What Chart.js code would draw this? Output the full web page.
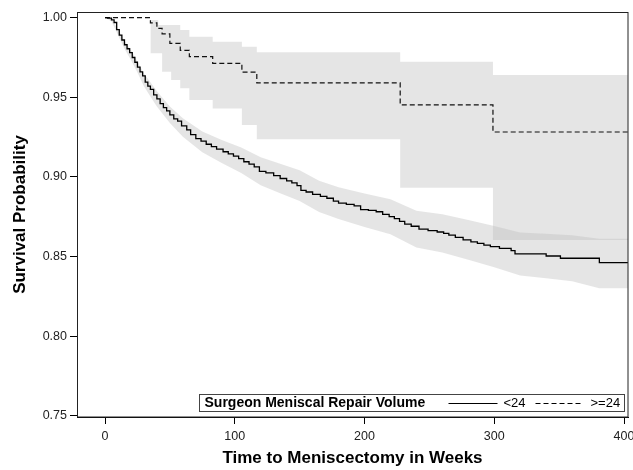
<!DOCTYPE html>
<html>
<head>
<meta charset="utf-8">
<script src="https://cdn.jsdelivr.net/npm/chart.js@4.4.1/dist/chart.umd.min.js"></script>
<style>
  html, body { margin: 0; padding: 0; background: #fff; }
  #wrap { width: 633px; height: 470px; }
</style>
</head>
<body>
<div id="wrap"><canvas id="c" width="633" height="470"></canvas></div>
<script>
// ---- Data ----
const xTicks = [0, 100, 200, 300, 400];
const yTicks = [0.75, 0.80, 0.85, 0.90, 0.95, 1.00];

// Group "<24" Kaplan-Meier estimate
const lowT = [0, 2, 5, 7, 9, 11, 13, 15, 17, 19, 21, 23, 25, 27, 29, 31, 33, 35, 37.5, 40, 42.5, 45, 47.5, 50, 53, 56, 59, 63, 66, 70, 74, 78, 82, 86, 91, 95, 99, 103, 107, 111, 115, 119, 124, 130, 135, 140, 144, 148, 151, 155, 160, 166, 171, 176, 180, 186, 192, 197, 203, 209, 214, 219, 223, 227, 231, 236, 242, 249, 256, 261, 265, 270, 276, 282, 287, 292, 297, 304, 313, 316, 340, 351, 381, 403];
const lowS = [1.000, 0.9997, 0.9986, 0.997, 0.9925, 0.989, 0.986, 0.983, 0.9805, 0.978, 0.975, 0.972, 0.969, 0.966, 0.9635, 0.9595, 0.957, 0.955, 0.9515, 0.949, 0.946, 0.9435, 0.9415, 0.939, 0.9365, 0.935, 0.932, 0.9295, 0.9265, 0.924, 0.9225, 0.9205, 0.919, 0.9175, 0.9158, 0.9145, 0.913, 0.9115, 0.9095, 0.908, 0.9063, 0.9035, 0.9025, 0.9008, 0.899, 0.8975, 0.8962, 0.8945, 0.8915, 0.8905, 0.889, 0.8878, 0.8866, 0.8848, 0.8835, 0.8828, 0.8818, 0.8795, 0.879, 0.8781, 0.8765, 0.875, 0.8738, 0.872, 0.8703, 0.869, 0.8672, 0.8662, 0.8654, 0.8645, 0.8634, 0.862, 0.8604, 0.8592, 0.8582, 0.8572, 0.8562, 0.8551, 0.8537, 0.8516, 0.8503, 0.8489, 0.8461, 0.8461];

// Group "<24" confidence band
const lowBandT = [0, 5, 10, 15, 20, 25, 30, 35, 40, 50, 60, 75, 90, 105, 120, 135, 150, 165, 180, 200, 220, 240, 260, 280, 300, 320, 340, 360, 381, 403];
const lowUpper = [1.000, 0.9994, 0.9928, 0.9855, 0.9795, 0.9725, 0.965, 0.9595, 0.9538, 0.9442, 0.9368, 0.9285, 0.9232, 0.9185, 0.9123, 0.9082, 0.9041, 0.8976, 0.8935, 0.8895, 0.886, 0.8787, 0.8765, 0.8729, 0.8692, 0.8651, 0.8643, 0.8634, 0.8611, 0.8611];
const lowLower = [1.000, 0.9978, 0.9892, 0.9805, 0.9735, 0.9655, 0.957, 0.9505, 0.9442, 0.9338, 0.9252, 0.9155, 0.9088, 0.9025, 0.8947, 0.8898, 0.8849, 0.878, 0.8735, 0.8685, 0.864, 0.8557, 0.8525, 0.8479, 0.8432, 0.8381, 0.8363, 0.8344, 0.830, 0.830];

// Group ">=24" Kaplan-Meier estimate
const highT = [0, 35, 40, 44, 50, 58, 65, 83, 105.5, 117, 227.5, 299, 403];
const highS = [1.000, 0.9967, 0.9933, 0.9898, 0.9839, 0.9795, 0.9755, 0.9713, 0.9658, 0.959, 0.9452, 0.9282, 0.9282];

// Group ">=24" confidence band
const highBandT = [35, 41, 44, 51, 58, 65, 83, 105.5, 117, 227.5, 299, 403];
const highUpper = [0.9986, 0.9954, 0.9954, 0.9954, 0.9923, 0.9881, 0.9849, 0.9818, 0.9783, 0.9724, 0.964, 0.964];
const highLower = [0.9776, 0.9776, 0.966, 0.9609, 0.9557, 0.9483, 0.943, 0.9326, 0.9237, 0.8932, 0.8604, 0.8604];

const legendTitle = 'Surgeon Meniscal Repair Volume';
const seriesNames = ['<24', '>=24'];
const xTitle = 'Time to Meniscectomy in Weeks';
const yTitle = 'Survival Probability';

// ---- Build ----
const pts = (t, v) => t.map((x, i) => ({ x: x, y: v[i] }));
const FONT = "'Liberation Sans', Arial, Helvetica, sans-serif";
const BAND = 'rgba(190,190,190,0.40)';

const framePlugin = {
  id: 'frameAndLegend',
  afterDatasetsDraw(chart) {
    const { ctx, chartArea: a } = chart;
    ctx.save();
    ctx.strokeStyle = '#222';
    ctx.lineWidth = 1;
    ctx.strokeRect(Math.round(a.left) + 0.5, Math.round(a.top) + 0.5,
                   Math.round(a.right - a.left) - 0.5, Math.round(a.bottom - a.top) - 0.5);

    // Legend box inside plot, bottom right
    const bx1 = Math.round(a.right) - 3.5, by2 = Math.round(a.bottom) - 5.5;
    const bx0 = bx1 - 425, by0 = by2 - 17;
    ctx.fillStyle = '#fff';
    ctx.fillRect(bx0, by0, bx1 - bx0, by2 - by0);
    ctx.strokeStyle = '#444';
    ctx.strokeRect(bx0, by0, bx1 - bx0, by2 - by0);
    const my = (by0 + by2) / 2;
    ctx.fillStyle = '#000';
    ctx.textBaseline = 'middle';
    ctx.textAlign = 'left';
    ctx.font = 'bold 14px ' + FONT;
    ctx.fillText(legendTitle, bx0 + 5, my + 0.5);
    ctx.font = '13px ' + FONT;
    ctx.strokeStyle = '#000';
    ctx.lineWidth = 1;
    ctx.beginPath();
    ctx.moveTo(bx0 + 249, Math.round(my) + 0.5);
    ctx.lineTo(bx0 + 298, Math.round(my) + 0.5);
    ctx.stroke();
    ctx.fillText(seriesNames[0], bx0 + 304, my + 0.5);
    ctx.setLineDash([5, 3]);
    ctx.beginPath();
    ctx.moveTo(bx0 + 336, Math.round(my) + 0.5);
    ctx.lineTo(bx0 + 382, Math.round(my) + 0.5);
    ctx.stroke();
    ctx.setLineDash([]);
    ctx.fillText(seriesNames[1], bx0 + 391, my + 0.5);
    ctx.restore();
  }
};

new Chart(document.getElementById('c'), {
  type: 'line',
  data: {
    datasets: [
      { label: seriesNames[0], data: pts(lowT, lowS), stepped: true, borderColor: '#000', borderWidth: 1.3, pointRadius: 0, fill: false },
      { label: seriesNames[1], data: pts(highT, highS), stepped: true, borderColor: '#111', borderWidth: 1.2, borderDash: [5, 3], pointRadius: 0, fill: false },
      { label: 'low upper', data: pts(lowBandT, lowUpper), borderWidth: 0, borderColor: 'rgba(0,0,0,0)', pointRadius: 0, fill: false },
      { label: 'low lower', data: pts(lowBandT, lowLower), borderWidth: 0, borderColor: 'rgba(0,0,0,0)', pointRadius: 0, fill: '-1', backgroundColor: BAND },
      { label: 'high upper', data: pts(highBandT, highUpper), stepped: true, borderWidth: 0, borderColor: 'rgba(0,0,0,0)', pointRadius: 0, fill: false },
      { label: 'high lower', data: pts(highBandT, highLower), stepped: true, borderWidth: 0, borderColor: 'rgba(0,0,0,0)', pointRadius: 0, fill: '-1', backgroundColor: BAND }
    ]
  },
  options: {
    responsive: false,
    animation: false,
    devicePixelRatio: 1,
    layout: { padding: { top: 12, right: 5, left: 0, bottom: 0 } },
    plugins: { legend: { display: false }, tooltip: { enabled: false } },
    scales: {
      x: {
        type: 'linear',
        min: -21.58,
        max: 403.08,
        afterBuildTicks: (s) => { s.ticks = xTicks.map(v => ({ value: v })); },
        afterFit: (s) => { s.height = 53; s.paddingLeft = 0; s.paddingRight = 0; },
        grid: { drawOnChartArea: false, drawTicks: true, tickLength: 7, color: '#000' },
        border: { display: true, color: '#000' },
        ticks: { font: { family: FONT, size: 12.5 }, color: '#222', padding: 5, maxRotation: 0, autoSkip: false,
                 callback: (v) => String(v) },
        title: { display: true, text: xTitle, color: '#000', font: { family: FONT, size: 17, weight: 'bold' }, padding: { top: 0, bottom: 1 } }
      },
      y: {
        type: 'linear',
        min: 0.74918,
        max: 1.00358,
        afterBuildTicks: (s) => { s.ticks = yTicks.map(v => ({ value: v })); },
        afterFit: (s) => { s.width = 77; s.paddingTop = 0; s.paddingBottom = 0; },
        grid: { drawOnChartArea: false, drawTicks: true, tickLength: 7, color: '#000' },
        border: { display: true, color: '#000' },
        ticks: { font: { family: FONT, size: 12.5 }, color: '#222', padding: 3, autoSkip: false,
                 callback: (v) => Number(v).toFixed(2) },
        title: { display: true, text: yTitle, color: '#000', font: { family: FONT, size: 17, weight: 'bold' }, padding: { top: 10, bottom: 0 } }
      }
    }
  },
  plugins: [framePlugin]
});
</script>
</body>
</html>
